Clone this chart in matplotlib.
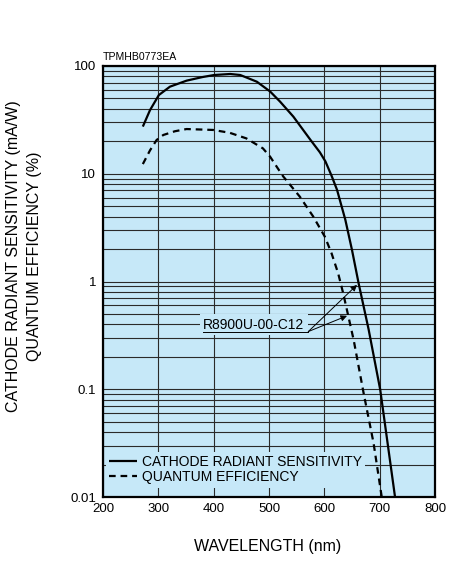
import matplotlib
matplotlib.use("Agg")
from matplotlib import pyplot as plt
from matplotlib import ticker

plt.rcParams['font.family'] = ['Liberation Sans', 'DejaVu Sans']

# cathode radiant sensitivity (mA/W)
wl_crs = [272, 285, 301, 321, 351, 380, 401, 430, 448, 478, 502, 520,
          544, 575, 592, 602, 613, 623, 638, 650, 662, 680, 701, 728]
crs = [27.4, 39, 53.8, 64.3, 73.1, 79, 82.5, 84.3, 82.5, 71.5, 58, 46.7,
       33.9, 20.6, 15.8, 13.0, 9.6, 7.08, 3.73, 1.96, 0.96, 0.36, 0.099, 0.0098]

# quantum efficiency (%)
wl_qe = [272, 285, 297, 309, 330, 351, 399, 429, 459, 489, 502, 516, 526,
         556, 580, 601, 613, 625, 634, 653, 671, 689, 704]
qe = [12.3, 16.5, 20.6, 22.9, 24.8, 26, 25.5, 24, 21.3, 17.2, 14.4, 11.2,
      9.4, 6.1, 4.0, 2.6, 1.83, 1.19, 0.78, 0.287, 0.092, 0.0316, 0.0098]

x_ticks = [200, 300, 400, 500, 600, 700, 800]
y_ticks = [0.01, 0.1, 1, 10, 100]
y_tick_labels = ['0.01', '0.1', '1', '10', '100']

BG = '#c6e8f8'
GRID = '#2a2a2a'

fig = plt.figure(figsize=(4.5, 5.62), dpi=100)
ax = fig.add_axes([103 / 450, 1 - 497 / 562, 332 / 450, 431 / 562])
ax.set_facecolor(BG)

ax.plot(wl_crs, crs, color='black', lw=1.6, label='CATHODE RADIANT SENSITIVITY',
        solid_capstyle='butt', zorder=3)
ax.plot(wl_qe, qe, color='black', lw=1.6, linestyle=(0, (3, 2.2)),
        label='QUANTUM EFFICIENCY', zorder=3)

ax.set_yscale('log')
ax.set_xlim(200, 800)
ax.set_ylim(0.01, 100)
ax.set_xticks(x_ticks)
ax.set_yticks(y_ticks)
ax.set_yticklabels(y_tick_labels)
ax.yaxis.set_minor_locator(ticker.LogLocator(base=10, subs=range(2, 10)))
ax.yaxis.set_minor_formatter(ticker.NullFormatter())
ax.tick_params(which='both', length=0, labelsize=9.5, pad=5)
ax.tick_params(axis='x', pad=4)

ax.grid(which='major', axis='both', color=GRID, lw=0.8)
ax.grid(which='minor', axis='y', color=GRID, lw=0.8)
ax.set_axisbelow(True)
for s in ax.spines.values():
    s.set_linewidth(1.6)
    s.set_zorder(4)

# annotation with two arrows
ax.text(381, 0.395, 'R8900U-00-C12', fontsize=10, ha='left', va='center',
        zorder=5, bbox=dict(facecolor=BG, edgecolor='none', pad=2.5))
ax.plot([381, 571], [0.343, 0.343], color='black', lw=0.7, zorder=6)
arrow = dict(arrowstyle='-|>', color='black', lw=0.7, mutation_scale=9,
             shrinkA=0, shrinkB=0)
ax.annotate('', xy=(659, 0.93), xytext=(571, 0.343), arrowprops=arrow,
            zorder=6)
ax.annotate('', xy=(641, 0.48), xytext=(571, 0.343), arrowprops=arrow,
            zorder=6)

leg = ax.legend(loc='lower left', bbox_to_anchor=(0.008, 0.022),
                borderaxespad=0, fontsize=10, frameon=True, fancybox=False,
                facecolor=BG, edgecolor='none', framealpha=1,
                handlelength=2.0, handletextpad=0.35, labelspacing=0.05,
                borderpad=0.25)
leg.set_zorder(2.5)

fig.text(103 / 450, 1 - 57 / 562, 'TPMHB0773EA', fontsize=7.6,
         ha='left', va='center')
fig.text(14 / 450, 1 - 256 / 562, 'CATHODE RADIANT SENSITIVITY (mA/W)',
         fontsize=11.5, rotation=90, ha='center', va='center')
fig.text(35 / 450, 1 - 256 / 562, 'QUANTUM EFFICIENCY (%)',
         fontsize=11.5, rotation=90, ha='center', va='center')
fig.text(268 / 450, 1 - 546 / 562, 'WAVELENGTH (nm)', fontsize=11.5,
         ha='center', va='center')

fig.savefig('out.png', dpi=100)
